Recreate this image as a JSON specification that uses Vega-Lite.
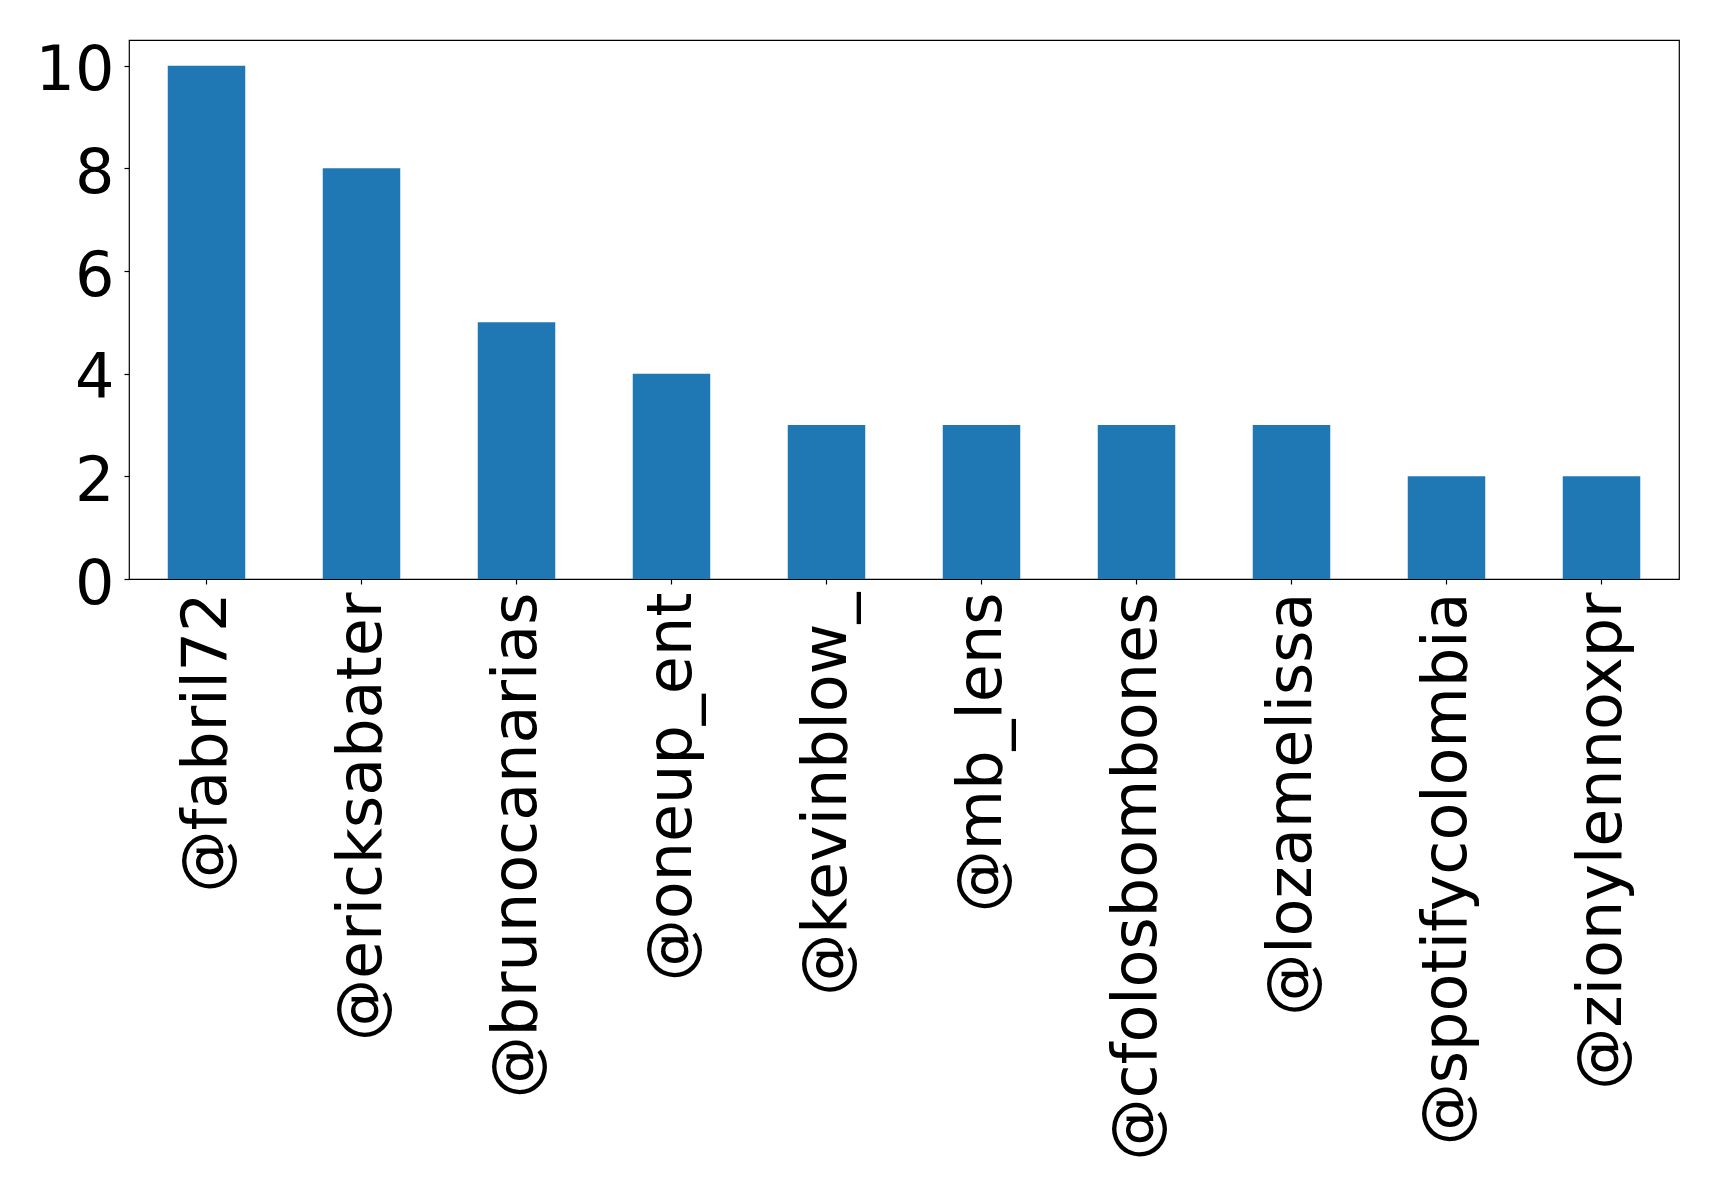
{
  "$schema": "https://vega.github.io/schema/vega-lite/v6.json",
  "autosize": {"type": "none"},
  "padding": {"left": 129, "top": 40, "right": 40, "bottom": 622},
  "width": 1550,
  "height": 539,
  "background": "white",
  "config": {
    "font": "DejaVu Sans",
    "view": {"stroke": "black", "strokeWidth": 1.2},
    "axis": {
      "grid": false,
      "domain": false,
      "tickColor": "black",
      "tickSize": 5,
      "tickWidth": 1.2,
      "labelColor": "black",
      "labelFont": "DejaVu Sans",
      "labelFontSize": 62,
      "labelPadding": 8,
      "title": null
    }
  },
  "data": {
    "values": [
      {"user": "@fabril72", "count": 10},
      {"user": "@ericksabater", "count": 8},
      {"user": "@brunocanarias", "count": 5},
      {"user": "@oneup_ent", "count": 4},
      {"user": "@kevinblow_", "count": 3},
      {"user": "@mb_lens", "count": 3},
      {"user": "@cfolosbombones", "count": 3},
      {"user": "@lozamelissa", "count": 3},
      {"user": "@spotifycolombia", "count": 2},
      {"user": "@zionylennoxpr", "count": 2}
    ]
  },
  "mark": {"type": "bar", "color": "#1f77b4"},
  "encoding": {
    "x": {
      "field": "user",
      "type": "nominal",
      "sort": null,
      "scale": {"paddingInner": 0.5, "paddingOuter": 0.25},
      "axis": {"labelAngle": -90, "labelAlign": "right", "labelBaseline": "middle", "labelLimit": 0}
    },
    "y": {
      "field": "count",
      "type": "quantitative",
      "scale": {"domain": [0, 10.5], "nice": false, "zero": true},
      "axis": {"values": [0, 2, 4, 6, 8, 10], "labelOffset": 5, "labelPadding": 10}
    }
  }
}
